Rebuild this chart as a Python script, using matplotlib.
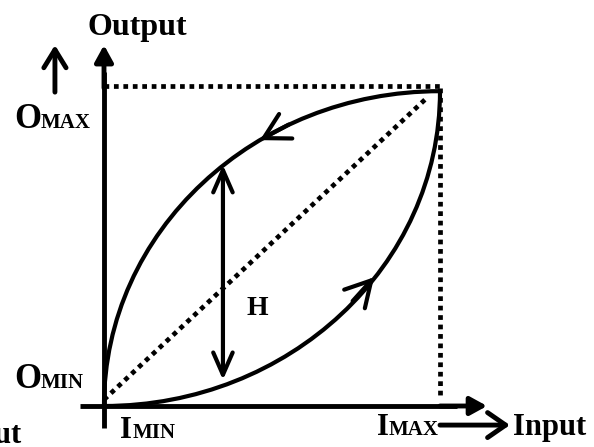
import numpy as np
import matplotlib
matplotlib.use("Agg")
import matplotlib.pyplot as plt
from matplotlib.path import Path
from matplotlib.patches import PathPatch

plt.rcParams['font.family'] = ['Liberation Serif', 'DejaVu Serif']
plt.rcParams['font.weight'] = 'bold'

# hysteresis loop control points (input, output), normalised 0..1
upper_x = [0.0, 0.0, 0.45, 1.0]
upper_y = [0.0, 0.55, 0.99, 0.99]
lower_x = [0.0, 0.55, 1.0, 1.0]
lower_y = [0.0, 0.0, 0.44, 0.99]

# diagonal (ideal linear) line
diag_x = [0.0, 0.961]
diag_y = [0.02, 0.969]

# H marker between curves
h_x = 0.354
h_top = 0.758
h_bot = 0.082

# direction arrows on the curves: tip and tail points
up_arrow_tip = (0.464, 0.836)
up_arrow_tail = (0.55, 0.885)
lo_arrow_tip = (0.804, 0.405)
lo_arrow_tail = (0.74, 0.33)

fig = plt.figure(figsize=(5.94, 4.47), dpi=100)
ax = fig.add_axes([0, 0, 1, 1])
ax.set_xlim(-104 / 336, 490 / 336)
ax.set_ylim(-41 / 318, 406 / 318)
ax.axis('off')

lw = 3.0


def bezier(xs, ys):
    verts = list(zip(xs, ys))
    codes = [Path.MOVETO, Path.CURVE4, Path.CURVE4, Path.CURVE4]
    return PathPatch(Path(verts, codes), fill=False, lw=lw, color='black',
                     capstyle='round')


ax.add_patch(bezier(upper_x, upper_y))
ax.add_patch(bezier(lower_x, lower_y))

# dotted guides
dot = dict(color='black', lw=3.4, linestyle=(0, (1, 1)), dash_capstyle='butt')
ax.plot([0.0, 1.0], [1.006, 1.006], **dot)
ax.plot([1.0, 1.0], [1.0, 0.028], **dot)
ax.plot(diag_x, diag_y, **dot)

# axes with arrows
ax.plot([0, 0], [-0.069, 1.05], color='black', lw=3.5, solid_capstyle='butt')
ax.annotate('', xy=(0, 1.135), xytext=(0, 1.0),
            arrowprops=dict(arrowstyle='-|>,head_length=1.0,head_width=0.55',
                            lw=3.5, color='black', shrinkA=0, shrinkB=0))
ax.plot([-0.071, 1.05], [0.0, 0.0], color='black', lw=3.5, solid_capstyle='butt')
ax.annotate('', xy=(1.14, 0.0), xytext=(1.0, 0.0),
            arrowprops=dict(arrowstyle='-|>,head_length=1.0,head_width=0.55',
                            lw=3.5, color='black', shrinkA=0, shrinkB=0))

# H double arrow
ax.annotate('', xy=(h_x, h_top), xytext=(h_x, h_bot),
            arrowprops=dict(arrowstyle='<->,head_length=1.6,head_width=0.7',
                            lw=3.0, color='black', shrinkA=0, shrinkB=0))
ax.text(0.455, 0.308, 'H', fontsize=20, ha='center', va='center', fontweight='bold')

# direction arrows on curves
for tip, tail in [(up_arrow_tip, up_arrow_tail), (lo_arrow_tip, lo_arrow_tail)]:
    ax.annotate('', xy=tip, xytext=tail,
                arrowprops=dict(arrowstyle='->,head_length=1.8,head_width=1.0',
                                lw=3.0, color='black', shrinkA=0, shrinkB=0))

# small arrows
ax.annotate('', xy=(-0.146, 1.135), xytext=(-0.146, 0.987),
            arrowprops=dict(arrowstyle='->,head_length=1.3,head_width=0.8',
                            lw=3.5, color='black', shrinkA=0, shrinkB=0))
ax.annotate('', xy=(1.208, -0.06), xytext=(1.0, -0.06),
            arrowprops=dict(arrowstyle='->,head_length=1.3,head_width=0.9',
                            lw=3.5, color='black', shrinkA=0, shrinkB=0))

# labels
big = 22
ax.text(-0.048, 1.167, 'Output', fontsize=23, ha='left', va='baseline')
ax.text(-0.268, 0.874, 'O', fontsize=25, ha='left', va='baseline')
ax.text(-0.19, 0.874, 'MAX', fontsize=15, ha='left', va='baseline')
ax.text(-0.268, 0.057, 'O', fontsize=25, ha='left', va='baseline')
ax.text(-0.19, 0.057, 'MIN', fontsize=15, ha='left', va='baseline')
ax.text(0.048, -0.101, 'I', fontsize=big, ha='left', va='baseline')
ax.text(0.086, -0.101, 'MIN', fontsize=15, ha='left', va='baseline')
ax.text(0.8125, -0.091, 'I', fontsize=big, ha='left', va='baseline')
ax.text(0.848, -0.091, 'MAX', fontsize=15, ha='left', va='baseline')
ax.text(1.217, -0.091, 'Input', fontsize=big, ha='left', va='baseline')
ax.text(-0.247, -0.116, 'Input', fontsize=big, ha='right', va='baseline')

fig.savefig('out.png', dpi=100)
